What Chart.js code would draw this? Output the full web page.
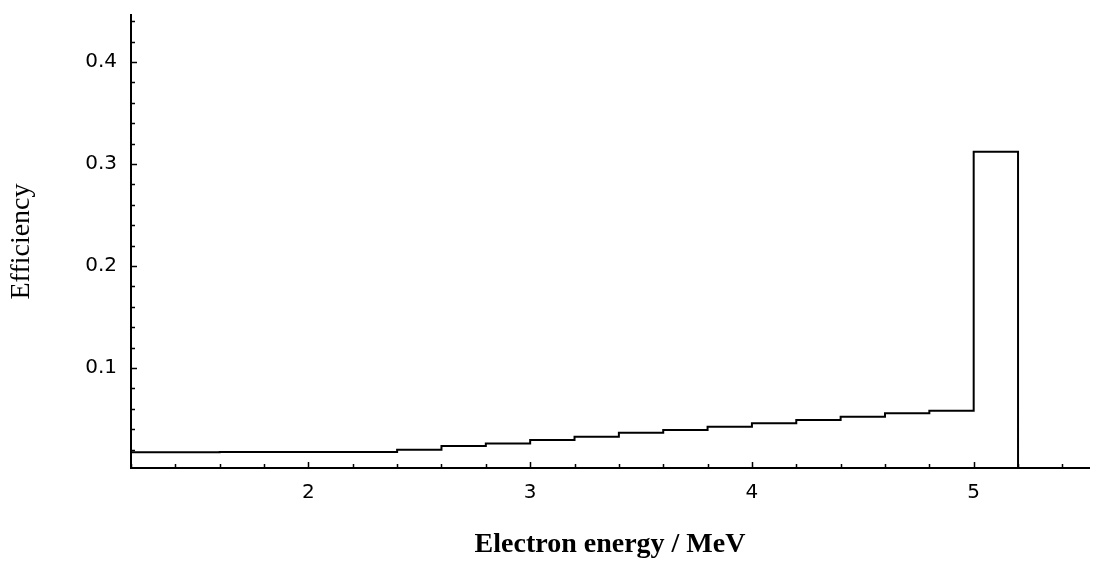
<!DOCTYPE html>
<html>
<head>
<meta charset="utf-8">
<script src="https://cdn.jsdelivr.net/npm/chart.js@4"></script>
<style>
  html, body { margin: 0; padding: 0; background: #fff; }
  #wrap { width: 1094px; height: 562px; }
</style>
</head>
<body>
<div id="wrap"><canvas id="effChart"></canvas></div>
<script>
// bin edges in MeV (lower edge of each 0.2 MeV bin) and efficiency per bin
const binEdges = [1.2, 1.4, 1.6, 1.8, 2.0, 2.2, 2.4, 2.6, 2.8, 3.0,
                  3.2, 3.4, 3.6, 3.8, 4.0, 4.2, 4.4, 4.6, 4.8, 5.0];
const efficiency = [0.0175, 0.0175, 0.0176, 0.0176, 0.0177, 0.0178, 0.0199, 0.0235, 0.0261, 0.0294,
                    0.0327, 0.0366, 0.0392, 0.0425, 0.0458, 0.049, 0.0523, 0.0556, 0.0582, 0.312];
const lastEdge = 5.2;

const xTickValues = [2, 3, 4, 5];
const yTickValues = [0.1, 0.2, 0.3, 0.4];

const xMin = 1.2, xMax = 5.52;
const yMin = 0.002, yMax = 0.446;

// step histogram: each bin value is held up to the next edge, then drop to the axis
const points = binEdges.map((e, i) => ({ x: e, y: efficiency[i] }));
points.push({ x: lastEdge, y: efficiency[efficiency.length - 1] });
points.push({ x: lastEdge, y: yMin });

// small inward ticks like the original plot
const innerTicks = {
  id: "innerTicks",
  afterDraw(chart) {
    const { ctx, chartArea, scales: { x, y } } = chart;
    ctx.save();
    ctx.strokeStyle = "#000";
    ctx.lineWidth = 1.5;
    ctx.beginPath();
    for (let v = 1.2; v <= xMax + 1e-9; v += 0.2) {
      const px = Math.round(x.getPixelForValue(v)) + 0.5;
      const major = Math.abs(v - Math.round(v)) < 1e-6;
      ctx.moveTo(px, chartArea.bottom);
      ctx.lineTo(px, chartArea.bottom - (major ? 6 : 4));
    }
    for (let v = 0.02; v <= yMax + 1e-9; v += 0.02) {
      const py = Math.round(y.getPixelForValue(v)) + 0.5;
      const major = Math.abs(v * 10 - Math.round(v * 10)) < 1e-6;
      ctx.moveTo(chartArea.left, py);
      ctx.lineTo(chartArea.left + (major ? 6 : 4), py);
    }
    ctx.stroke();
    ctx.restore();
  }
};

new Chart(document.getElementById("effChart").getContext("2d"), {
  type: "line",
  data: {
    datasets: [{
      data: points,
      stepped: "before",
      borderColor: "#000",
      borderWidth: 2,
      pointRadius: 0,
      fill: false
    }]
  },
  options: {
    responsive: true,
    maintainAspectRatio: false,
    animation: false,
    layout: { padding: { top: 15, right: 5, bottom: 0, left: 0 } },
    plugins: { legend: { display: false }, tooltip: { enabled: false } },
    scales: {
      x: {
        type: "linear",
        min: xMin,
        max: xMax,
        afterBuildTicks: s => { s.ticks = xTickValues.map(v => ({ value: v })); },
        grid: { drawOnChartArea: false, drawTicks: false },
        border: { display: true, color: "#000", width: 2 },
        ticks: {
          padding: 13,
          color: "#000",
          font: { family: "DejaVu Sans", size: 20 },
          callback: v => String(v)
        },
        title: {
          display: true,
          text: "Electron energy / MeV",
          color: "#000",
          font: { family: "Liberation Serif", size: 28, weight: "bold" },
          padding: { top: 10.4, bottom: 0 }
        }
      },
      y: {
        type: "linear",
        min: yMin,
        max: yMax,
        afterBuildTicks: s => { s.ticks = yTickValues.map(v => ({ value: v })); },
        // top label sits well below the axis end, so no extra room is needed above
        afterFit: s => { s.paddingTop = 0; },
        grid: { drawOnChartArea: false, drawTicks: false },
        border: { display: true, color: "#000", width: 2 },
        ticks: {
          padding: 14,
          color: "#000",
          font: { family: "DejaVu Sans", size: 20 },
          callback: v => v.toFixed(1)
        },
        title: {
          display: true,
          text: "Efficiency",
          color: "#000",
          font: { family: "Liberation Serif", size: 28 },
          padding: { top: 5.2, bottom: 32.4 }
        }
      }
    }
  },
  plugins: [innerTicks]
});
</script>
</body>
</html>
